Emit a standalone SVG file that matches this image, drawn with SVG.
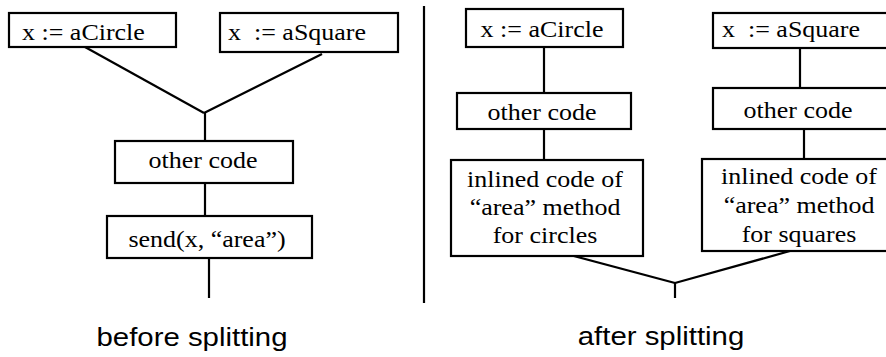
<svg xmlns="http://www.w3.org/2000/svg" width="886" height="357" viewBox="0 0 886 357">
<style>
rect{fill:#fff;stroke:#000;stroke-width:2.2}
line{stroke:#000;stroke-width:2.2}
.s{font-family:'Liberation Serif',serif;font-size:23px;fill:#000}
.c{text-anchor:middle}
.h{font-family:'Liberation Sans',sans-serif;font-size:26px;fill:#000;text-anchor:middle}
</style>
<g id="connectors">
<line x1="85" y1="47" x2="204" y2="113"/>
<line x1="322" y1="54" x2="204" y2="113"/>
<line x1="205" y1="112" x2="205" y2="141"/>
<line x1="205" y1="183" x2="205" y2="216"/>
<line x1="209" y1="258" x2="209" y2="298"/>
<line x1="424" y1="6" x2="424" y2="303"/>
<line x1="544" y1="47" x2="544" y2="93"/>
<line x1="544" y1="129" x2="544" y2="160"/>
<line x1="800" y1="48" x2="800" y2="88"/>
<line x1="804" y1="127" x2="804" y2="159"/>
<line x1="570" y1="255" x2="675" y2="283"/>
<line x1="790" y1="251" x2="675" y2="283"/>
<line x1="675" y1="282" x2="675" y2="298"/>
</g>
<g id="n1"><rect x="9" y="13" width="167" height="34"/><text class="s" transform="translate(22,40) scale(1.13,1)">x := aCircle</text></g>
<g id="n2"><rect x="220" y="13" width="178" height="39"/><text class="s" transform="translate(228,40) scale(1.13,1)" xml:space="preserve">x  := aSquare</text></g>
<g id="n3"><rect x="115" y="141" width="178" height="42"/><text class="s c" transform="translate(203,168) scale(1.13,1)">other code</text></g>
<g id="n4"><rect x="107" y="216" width="205" height="42"/><text class="s c" transform="translate(207,247) scale(1.13,1)">send(x, “area”)</text></g>
<g id="n5"><rect x="466" y="9" width="157" height="38"/><text class="s c" transform="translate(542,37) scale(1.13,1)">x := aCircle</text></g>
<g id="n6"><rect x="457" y="93" width="174" height="36"/><text class="s c" transform="translate(542,120) scale(1.13,1)">other code</text></g>
<g id="n7"><rect x="451" y="160" width="192" height="96"/>
<text class="s c" transform="translate(545,187) scale(1.13,1)">inlined code of</text>
<text class="s c" transform="translate(545,215) scale(1.13,1)">“area” method</text>
<text class="s c" transform="translate(545,243) scale(1.13,1)">for circles</text></g>
<g id="n8"><rect x="713" y="13" width="180" height="35"/><text class="s" transform="translate(722,37) scale(1.13,1)" xml:space="preserve">x  := aSquare</text></g>
<g id="n9"><rect x="713" y="88" width="180" height="41"/><text class="s c" transform="translate(798,118) scale(1.13,1)">other code</text></g>
<g id="n10"><rect x="702" y="159" width="190" height="92"/>
<text class="s c" transform="translate(799,184) scale(1.13,1)">inlined code of</text>
<text class="s c" transform="translate(799,213) scale(1.13,1)">“area” method</text>
<text class="s c" transform="translate(799,242) scale(1.13,1)">for squares</text></g>
<text class="h" transform="translate(192,346) scale(1.13,1)">before splitting</text>
<text class="h" transform="translate(661,345) scale(1.13,1)">after splitting</text>
</svg>
